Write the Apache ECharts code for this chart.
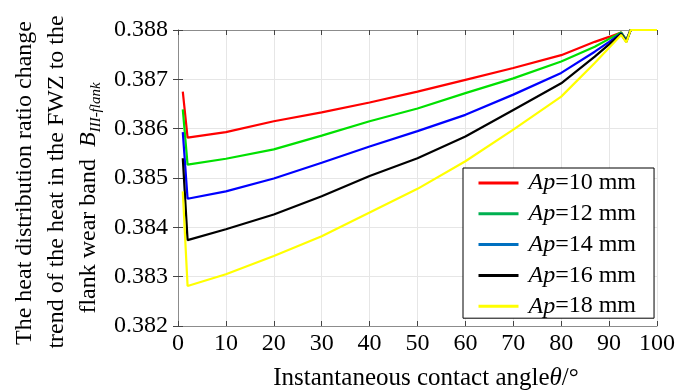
<!DOCTYPE html>
<html>
<head>
<meta charset="utf-8">
<script src="https://cdn.jsdelivr.net/npm/echarts@6/dist/echarts.min.js"></script>
<style>
html,body{margin:0;padding:0;background:#fff;}
#chart{width:678px;height:392px;}
</style>
</head>
<body>
<div id="chart"></div>
<script>
// Instantaneous contact angle (deg)
const theta = [1, 2, 10, 20, 30, 40, 50, 60, 70, 80, 87, 90, 92.5, 93.6, 94.5, 100];
const ap10 = [0.38675, 0.38582, 0.38593, 0.38615, 0.38633, 0.38653, 0.38675, 0.38699, 0.38723, 0.38749, 0.38776, 0.38786, 0.38795, 0.38780, 0.38800, 0.38800];
const ap12 = [0.38639, 0.38527, 0.38539, 0.38558, 0.38586, 0.38615, 0.38641, 0.38672, 0.38702, 0.38736, 0.38766, 0.38782, 0.38795, 0.38780, 0.38800, 0.38800];
const ap14 = [0.38593, 0.38458, 0.38473, 0.38499, 0.38531, 0.38564, 0.38595, 0.38628, 0.38669, 0.38713, 0.38756, 0.38776, 0.38793, 0.38778, 0.38800, 0.38800];
const ap16 = [0.38540, 0.38374, 0.38396, 0.38426, 0.38463, 0.38504, 0.38540, 0.38584, 0.38638, 0.38692, 0.38746, 0.38771, 0.38792, 0.38776, 0.38800, 0.38800];
const ap18 = [0.38473, 0.38281, 0.38305, 0.38342, 0.38382, 0.38430, 0.38478, 0.38534, 0.38598, 0.38665, 0.38733, 0.38764, 0.38790, 0.38775, 0.38800, 0.38800];
const seriesNames = ['Ap=10 mm', 'Ap=12 mm', 'Ap=14 mm', 'Ap=16 mm', 'Ap=18 mm'];
const seriesValues = [ap10, ap12, ap14, ap16, ap18];
const lineColors = ['#ff0000', '#00e000', '#0000ff', '#000000', '#ffff00'];
const legendColors = ['#ff0000', '#00b050', '#0070c0', '#000000', '#ffff00'];

const FONT = '"Liberation Serif", "Times New Roman", serif';
const chart = echarts.init(document.getElementById('chart'), null, {renderer: 'canvas'});

const series = seriesNames.map((n, k) => ({
  name: n,
  type: 'line',
  symbol: 'none',
  data: theta.map((t, i) => [t, seriesValues[k][i]]),
  lineStyle: {color: lineColors[k], width: 2.2},
  itemStyle: {color: lineColors[k]},
  z: 3 + k
}));

const axisGray = '#8c8c8c';
const option = {
  animation: false,
  backgroundColor: '#fff',
  grid: {left: 178, right: 16, top: 30, bottom: 66, containLabel: false},
  xAxis: [{
    type: 'value', min: 0, max: 100, interval: 10, position: 'bottom',
    axisLine: {show: true, lineStyle: {color: axisGray, width: 1}},
    axisTick: {show: true, inside: true, length: 5, lineStyle: {color: '#444'}},
    axisLabel: {color: '#000', fontFamily: FONT, fontSize: 24, margin: 6},
    splitLine: {show: true, lineStyle: {color: '#e6e6e6', width: 1}}
  }, {
    type: 'value', min: 0, max: 100, interval: 10, position: 'top',
    axisLine: {show: true, lineStyle: {color: axisGray, width: 1}},
    axisTick: {show: true, inside: true, length: 5, lineStyle: {color: '#444'}},
    axisLabel: {show: false}, splitLine: {show: false}
  }],
  yAxis: [{
    type: 'value', min: 0.382, max: 0.388, interval: 0.001, position: 'left',
    axisLine: {show: true, lineStyle: {color: axisGray, width: 1}},
    axisTick: {show: true, inside: true, length: 5, lineStyle: {color: '#444'}},
    axisLabel: {color: '#000', fontFamily: FONT, fontSize: 24, margin: 10,
      formatter: v => v.toFixed(3)},
    splitLine: {show: true, lineStyle: {color: '#e6e6e6', width: 1}}
  }, {
    type: 'value', min: 0.382, max: 0.388, interval: 0.001, position: 'right',
    axisLine: {show: true, lineStyle: {color: axisGray, width: 1}},
    axisTick: {show: true, inside: true, length: 5, lineStyle: {color: '#444'}},
    axisLabel: {show: false}, splitLine: {show: false}
  }],
  legend: {
    orient: 'vertical',
    left: 463, top: 168,
    backgroundColor: '#fff',
    borderColor: '#000', borderWidth: 1, borderRadius: 0,
    padding: [3, 18, 0, 14],
    itemWidth: 40, itemHeight: 14, itemGap: 6.8,
    itemStyle: {opacity: 0},
    data: seriesNames.map((n, k) => ({name: n, lineStyle: {color: legendColors[k], width: 3, opacity: 1}})),
    formatter: name => '{i|Ap}{n|' + name.slice(2) + '}',
    textStyle: {
      fontFamily: FONT, fontSize: 24, color: '#000', padding: [0, 0, 0, 5], lineHeight: 24,
      rich: {
        i: {fontFamily: FONT, fontSize: 24, fontStyle: 'italic', color: '#000', lineHeight: 24},
        n: {fontFamily: FONT, fontSize: 24, color: '#000', lineHeight: 24}
      }
    }
  },
  graphic: [
    {type: 'text', x: 25, y: 183, rotation: Math.PI / 2,
      style: {text: 'The heat distribution ratio change', font: '24px ' + FONT, fill: '#000', align: 'center', verticalAlign: 'middle'}},
    {type: 'text', x: 57, y: 182, rotation: Math.PI / 2,
      style: {text: 'trend of the heat in the FWZ to the', font: '24px ' + FONT, fill: '#000', align: 'center', verticalAlign: 'middle'}},
    {type: 'text', x: 89, y: 198, rotation: Math.PI / 2,
      style: {text: '{a|flank wear band  }{b|B}{s|III-flank}', align: 'center', verticalAlign: 'middle', fill: '#000',
        rich: {
          a: {fontFamily: FONT, fontSize: 24, lineHeight: 30, verticalAlign: 'middle', fill: '#000'},
          b: {fontFamily: FONT, fontSize: 24, fontStyle: 'italic', lineHeight: 30, verticalAlign: 'middle', fill: '#000'},
          s: {fontFamily: FONT, fontSize: 15, fontStyle: 'italic', lineHeight: 15, verticalAlign: 'bottom', fill: '#000'}
        }}},
    {type: 'text', x: 426, y: 378,
      style: {text: '{a|Instantaneous contact angle}{b|θ}{a|/°}', align: 'center', verticalAlign: 'middle', fill: '#000',
        rich: {
          a: {fontFamily: FONT, fontSize: 25, fill: '#000'},
          b: {fontFamily: FONT, fontSize: 25, fontStyle: 'italic', fill: '#000'}
        }}}
  ],
  series: series
};
chart.setOption(option);
</script>
</body>
</html>
